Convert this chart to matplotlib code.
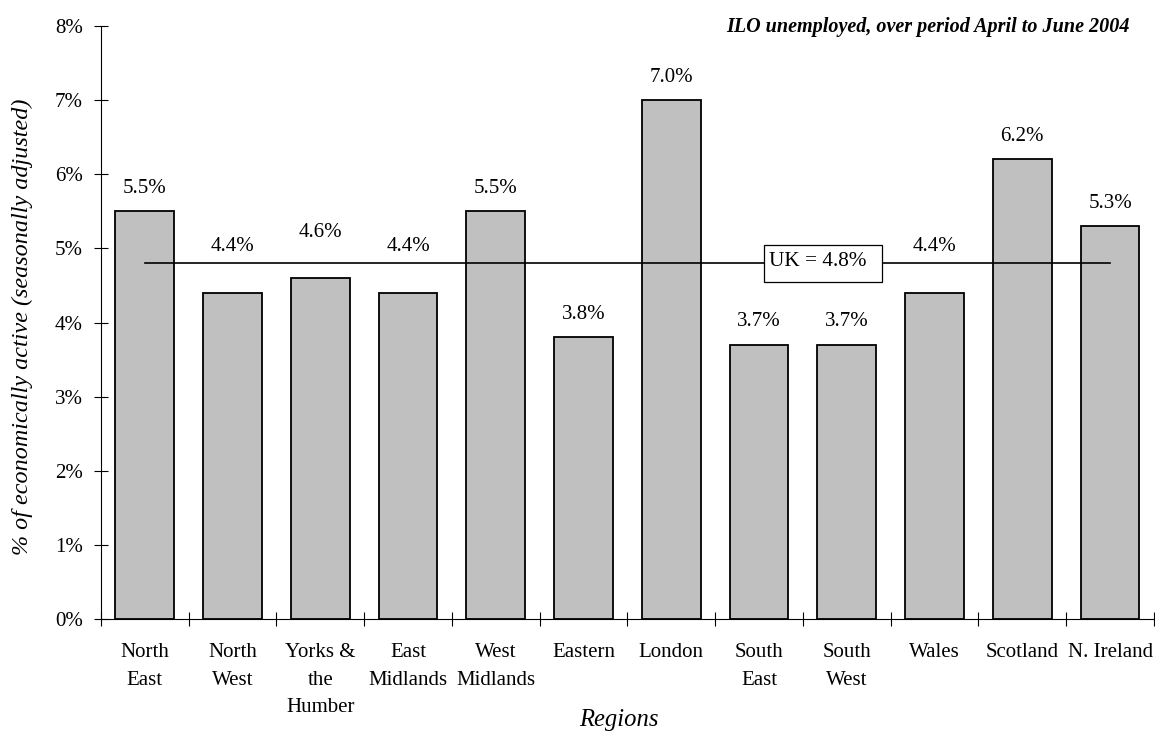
import matplotlib
matplotlib.use("Agg")
import matplotlib.pyplot as plt
from matplotlib.patches import Rectangle
from matplotlib.ticker import FuncFormatter, FixedLocator

# Regional ILO unemployment rates, April to June 2004
regions = ["North\nEast", "North\nWest", "Yorks &\nthe\nHumber", "East\nMidlands",
           "West\nMidlands", "Eastern", "London", "South\nEast", "South\nWest",
           "Wales", "Scotland", "N. Ireland"]
rates = [5.5, 4.4, 4.6, 4.4, 5.5, 3.8, 7.0, 3.7, 3.7, 4.4, 6.2, 5.3]
uk_rate = 4.8
y_ticks = [0, 1, 2, 3, 4, 5, 6, 7, 8]

plt.rcParams["font.family"] = ["Liberation Serif", "DejaVu Serif"]
plt.rcParams["font.size"] = 15

fig = plt.figure(figsize=(11.55, 7.31), dpi=100)
ax = fig.add_axes([0.0874, 0.1532, 0.9117, 0.8112])

x = list(range(len(regions)))
ax.bar(x, rates, width=0.67, color="#C0C0C0", edgecolor="black",
       linewidth=1.3, zorder=2)

# UK average line across the regions
ax.plot([x[0], x[-1]], [uk_rate, uk_rate], color="black", lw=1.2, zorder=3)
ax.add_patch(Rectangle((7.054, uk_rate - 0.25), 1.346, 0.5, facecolor="white",
                       edgecolor="black", lw=0.9, zorder=4))
ax.text(7.11, uk_rate + 0.02, f"UK = {uk_rate:.1f}%", ha="left", va="center",
        fontsize=15.3, zorder=5)

# value labels; lift those that would sit on the UK line
for xi, v in zip(x, rates):
    ly = v + 0.31
    if abs(ly - uk_rate) < 0.25:
        ly += 0.31
    ax.text(xi, ly, f"{v:.1f}%", ha="center", va="center", fontsize=15, zorder=5)

ax.set_xlim(-0.5, len(regions) - 0.5)
ax.set_ylim(0, 8)
ax.yaxis.set_major_locator(FixedLocator(y_ticks))
ax.yaxis.set_major_formatter(FuncFormatter(lambda v, p: f"{v:.0f}%"))

# category labels centred under bars, tick marks between categories
ax.set_xticks(x)
ax.set_xticklabels(regions, linespacing=1.6)
ax.tick_params(axis="x", which="major", length=0, pad=17.5)
ax.set_xticks([i - 0.5 for i in range(len(regions) + 1)], minor=True)
ax.tick_params(axis="x", which="minor", direction="inout", length=10, width=0.8)
ax.tick_params(axis="y", direction="inout", length=10, width=0.8, pad=8)

for s in ("top", "right"):
    ax.spines[s].set_visible(False)
for s in ("left", "bottom"):
    ax.spines[s].set_linewidth(0.8)

fig.text(0.019, 0.5527, "% of economically active (seasonally adjusted)",
         rotation=90, ha="center", va="center", fontstyle="italic", fontsize=17.4)
fig.text(0.536, 0.0068, "Regions", ha="center", va="baseline", fontstyle="italic",
         fontsize=17.7)
fig.text(0.978, 0.963, "ILO unemployed, over period April to June 2004",
         ha="right", va="center", fontstyle="italic", fontweight="bold", fontsize=14.5)

fig.savefig("out.png", dpi=100)
